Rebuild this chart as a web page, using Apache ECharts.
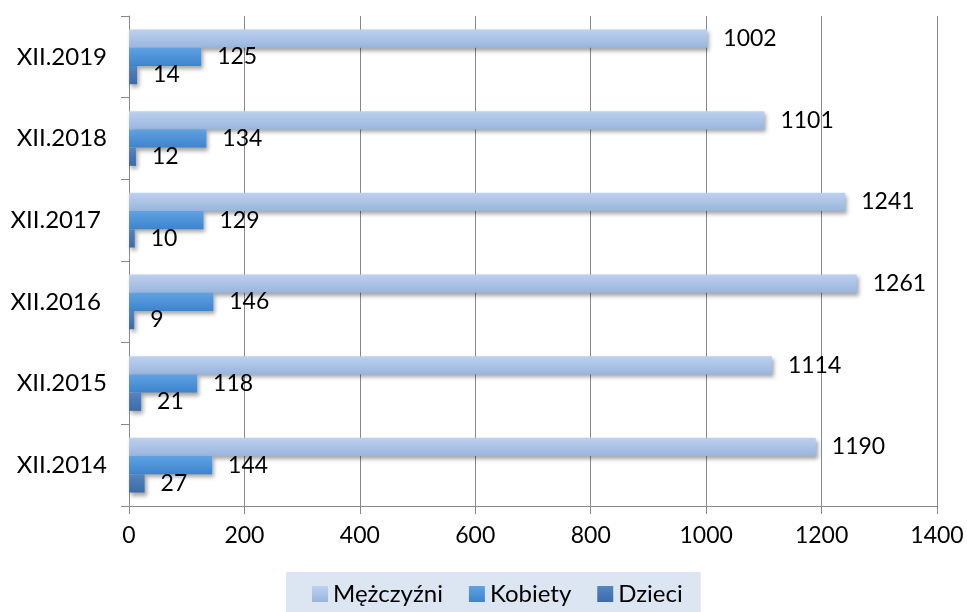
<!DOCTYPE html>
<html>
<head>
<meta charset="utf-8">
<script src="https://cdn.jsdelivr.net/npm/echarts@6/dist/echarts.min.js"></script>
<style>
  html, body { margin: 0; padding: 0; background: #fff; }
  #chart { width: 967px; height: 612px; }
</style>
</head>
<body>
<div id="chart"></div>
<script>
// kategorie (od dołu do góry)
const categories = ["XII.2014", "XII.2015", "XII.2016 ", "XII.2017 ", "XII.2018", "XII.2019"];
const men = [1190, 1114, 1261, 1241, 1101, 1002];
const women = [144, 118, 146, 129, 134, 125];
const children = [27, 21, 9, 10, 12, 14];
const xTicks = [0, 200, 400, 600, 800, 1000, 1200, 1400];

const font = "Lato, 'Open Sans', sans-serif";

// gradient pionowy -> efekt "walca" jak w Excelu
const grad = (top, bottom) =>
  new echarts.graphic.LinearGradient(0, 0, 0, 1, [
    { offset: 0, color: top },
    { offset: 1, color: bottom },
  ]);

const makeSeries = (name, data, top, bottom) => ({
  name: name,
  type: "bar",
  data: data,
  barGap: "0%",
  barCategoryGap: "33%",
  itemStyle: {
    color: grad(top, bottom),
    shadowColor: "rgba(0,0,0,0.35)",
    shadowBlur: 4,
    shadowOffsetX: 2,
    shadowOffsetY: 3,
  },
  label: {
    show: true,
    position: "right",
    distance: 16,
    color: "#000",
    fontSize: 23,
    fontFamily: font,
  },
});

const chart = echarts.init(document.getElementById("chart"));
chart.setOption({
  animation: false,
  grid: { left: 129, right: 30, top: 16, bottom: 106 },
  legend: {
    data: ["Mężczyźni", "Kobiety", "Dzieci"],
    bottom: -6,
    left: 286,
    backgroundColor: "#dce6f2",
    padding: [10, 18, 12, 26],
    itemWidth: 16,
    itemHeight: 16,
    itemGap: 26,
    icon: "rect",
    textStyle: { fontSize: 24, fontFamily: font, color: "#000" },
  },
  xAxis: {
    type: "value",
    min: xTicks[0],
    max: xTicks[xTicks.length - 1],
    interval: 200,
    axisLine: { show: true, lineStyle: { color: "#888", width: 1 } },
    axisTick: { show: true, length: 8, lineStyle: { color: "#888" } },
    axisLabel: {
      fontSize: 23,
      fontFamily: font,
      color: "#000",
      margin: 18,
      formatter: (v) => String(v),
    },
    splitLine: { show: true, lineStyle: { color: "#888", width: 1 } },
  },
  yAxis: {
    type: "category",
    data: categories,
    axisLine: { show: true, lineStyle: { color: "#888", width: 1 } },
    axisTick: { show: true, length: 8, lineStyle: { color: "#888" } },
    axisLabel: { fontSize: 24, fontFamily: font, color: "#000", margin: 22 },
  },
  // pierwsza seria rysuje się na górze grupy
  series: [
    makeSeries("Mężczyźni", men, "#bdd1ef", "#99b5dd"),
    makeSeries("Kobiety", women, "#60a2e2", "#3d84cd"),
    makeSeries("Dzieci", children, "#5584c0", "#3b6ba8"),
  ],
});
</script>
</body>
</html>
